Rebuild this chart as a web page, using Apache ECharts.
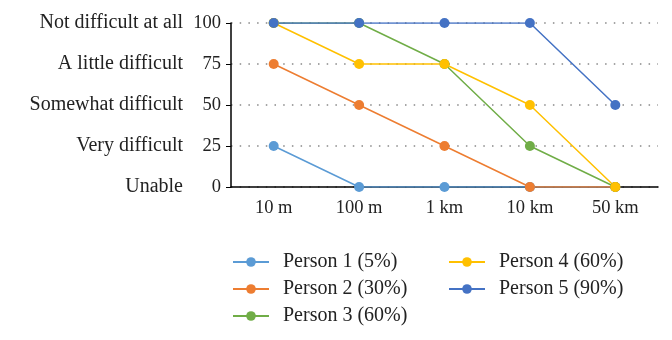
<!DOCTYPE html>
<html>
<head>
<meta charset="utf-8">
<script src="https://cdn.jsdelivr.net/npm/echarts@6/dist/echarts.min.js"></script>
<style>
    html, body { margin: 0; padding: 0; background: #fff; }
    #chart { width: 672px; height: 340px; }
</style>
</head>
<body>
<div id="chart"></div>
<script>
// distances walked
var categories = ['10 m', '100 m', '1 km', '10 km', '50 km']
// difficulty levels for the 0..100 scale
var levelLabels = ['Unable', 'Very difficult', 'Somewhat difficult', 'A little difficult', 'Not difficult at all']
var levelValues = [0, 25, 50, 75, 100]

var seriesNames = ['Person 1 (5%)', 'Person 2 (30%)', 'Person 3 (60%)', 'Person 4 (60%)', 'Person 5 (90%)']
var person1 = [25, 0, 0, 0, 0]
var person2 = [75, 50, 25, 0, 0]
var person3 = [100, 100, 75, 25, 0]
var person4 = [100, 75, 75, 50, 0]
var person5 = [100, 100, 100, 100, 50]
var colors = ['#5b9bd5', '#ed7d31', '#70ad47', '#ffc000', '#4472c4']

var font = '"Liberation Serif", "DejaVu Serif", serif'
var chart = echarts.init(document.getElementById('chart'))

var allData = [person1, person2, person3, person4, person5]
var legendStyle = {
    orient: 'vertical',
    top: 247,
    itemWidth: 36,
    itemHeight: 12,
    itemGap: 7,
    textStyle: { fontFamily: font, fontSize: 20, color: '#222', padding: [0, 0, 0, 9] },
}

var options = {
    animation: false,
    color: colors,
    grid: {
        left: 231,
        right: 14,
        top: 23,
        height: 164,
        containLabel: false,
    },
    legend: [
        Object.assign({ left: 227, data: seriesNames.slice(0, 3) }, legendStyle),
        Object.assign({ left: 443, data: seriesNames.slice(3) }, legendStyle),
    ],
    xAxis: {
        type: 'category',
        data: categories,
        boundaryGap: true,
        axisLine: { lineStyle: { color: '#000', width: 1.5 } },
        axisTick: { alignWithLabel: true, length: 5, lineStyle: { color: '#000' } },
        axisLabel: { fontFamily: font, fontSize: 18.5, color: '#222', margin: 12 },
    },
    yAxis: [
        {
            type: 'value',
            min: 0,
            max: 100,
            interval: 25,
            axisLine: { show: true, lineStyle: { color: '#000', width: 1.5 } },
            axisTick: { show: true, length: 5, lineStyle: { color: '#000' } },
            axisLabel: { fontFamily: font, fontSize: 18.5, color: '#222', margin: 10 },
            splitLine: {
                show: true,
                lineStyle: { color: '#888', type: [1.5, 7.2], width: 1.5 },
            },
        },
        {
            type: 'value',
            position: 'left',
            offset: 40,
            min: 0,
            max: 100,
            interval: 25,
            axisLine: { show: false },
            axisTick: { show: false },
            splitLine: { show: false },
            axisLabel: {
                fontFamily: font,
                fontSize: 20,
                color: '#222',
                margin: 8,
                formatter: function (v) {
                    return levelLabels[levelValues.indexOf(v)]
                },
            },
        },
    ],
    series: allData.map(function (d, i) {
        return {
            name: seriesNames[i],
            type: 'line',
            data: d,
            symbol: 'circle',
            symbolSize: 10,
            lineStyle: { width: 1.5 },
        }
    }),
}
chart.setOption(options)
</script>
</body>
</html>
